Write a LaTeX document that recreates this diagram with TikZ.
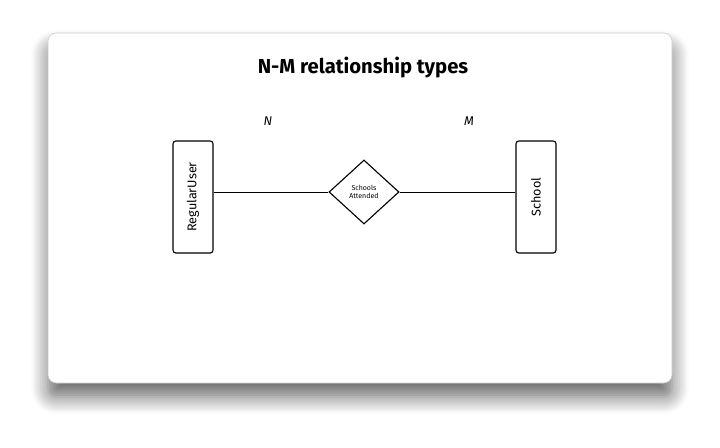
\documentclass[tikz,border=0pt]{standalone}
\usepackage{fontspec}
\setmainfont{Fira Sans}
\usetikzlibrary{shapes.geometric,shadows.blur,positioning}
\begin{document}
\begin{tikzpicture}[x=0.025cm,y=-0.025cm,thick,
                    entity/.style={draw,rounded corners=2pt,minimum width=1cm,minimum height=2.8cm,inner sep=0pt},
                    relation/.style={draw,diamond,aspect=1.1,minimum width=1.75cm,minimum height=1.6cm,inner sep=0pt,font=\tiny,align=center},
                    card label/.style={font=\itshape\small}]
\useasboundingbox (0,0) rectangle (720,447);
\fill[white,rounded corners=6pt,blur shadow={shadow blur steps=10,shadow xshift=0pt,shadow yshift=-10pt,shadow blur radius=12pt,shadow opacity=60}] (48,33) rectangle (672,383);
\draw[gray!40,thin,rounded corners=6pt] (48,33) rectangle (672,383);
\node[font=\Large\bfseries] (title) at (363,68) {N-M relationship types};
\node[entity] (user) at (193,197) {};
\node[rotate=90,font=\small] at (user) {RegularUser};
\node[entity] (school) at (536,197) {};
\node[rotate=90,font=\small] at (school) {School};
\node[relation] (attends) at (364,192) {Schools\\Attended};
\node[card label] (n) at (268,121) {N};
\node[card label] (m) at (469,121) {M};
\draw[thin] (user.east |- attends) -- (attends.west);
\draw[thin] (attends.east) -- (school.west |- attends);
\end{tikzpicture}
\end{document}
